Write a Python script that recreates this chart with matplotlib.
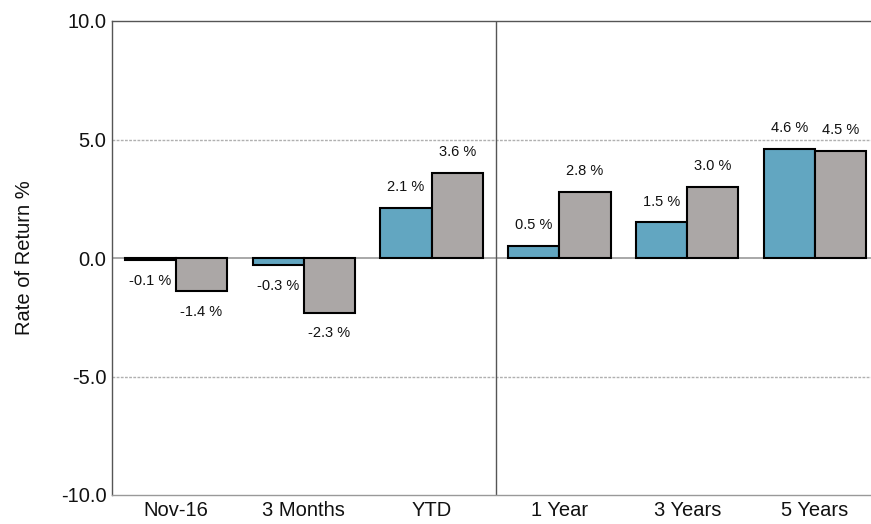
import matplotlib
matplotlib.use("Agg")
import matplotlib.pyplot as plt
import numpy as np

categories = ["Nov-16", "3 Months", "YTD", "1 Year", "3 Years", "5 Years"]
series_a = [-0.1, -0.3, 2.1, 0.5, 1.5, 4.6]
series_b = [-1.4, -2.3, 3.6, 2.8, 3.0, 4.5]
yticks = [-10.0, -5.0, 0.0, 5.0, 10.0]

plt.rcParams['font.family'] = ['Liberation Sans', 'DejaVu Sans']

fig = plt.figure(figsize=(8.71, 5.24), dpi=100)
ax = fig.add_axes([112/871, 1-495/524, 767/871, (495-21)/524])

x = np.arange(len(categories))
w = 0.4
ba = ax.bar(x - w/2, series_a, w, color="#62a6c1", edgecolor="black", linewidth=1.5, zorder=3)
bb = ax.bar(x + w/2, series_b, w, color="#aba7a6", edgecolor="black", linewidth=1.5, zorder=3)

for bars, vals in ((ba, series_a), (bb, series_b)):
    for rect, v in zip(bars, vals):
        cx = rect.get_x() + rect.get_width()/2
        if v >= 0:
            ax.annotate(f"{v:.1f} %", (cx, v), xytext=(0, 10), textcoords="offset points",
                        ha="center", va="bottom", fontsize=10.5, color="#111111")
        else:
            ax.annotate(f"{v:.1f} %", (cx, v), xytext=(0, -10), textcoords="offset points",
                        ha="center", va="top", fontsize=10.5, color="#111111")

for yv in (5, -5):
    ax.axhline(yv, color="#b0b0b0", linestyle=(0, (2, 1)), linewidth=1.0, zorder=1)
ax.axhline(0, color="#9a9a9a", linewidth=1.2, zorder=2)
ax.axvline(2.5, color="#555555", linewidth=1.0, zorder=2)

ax.set_xlim(-0.5, len(categories) - 0.5)
ax.set_ylim(-10, 10)
ax.set_yticks(yticks)
ax.set_yticklabels([f"{t:.1f}" for t in yticks])
ax.set_xticks(x)
ax.set_xticklabels(categories)
ax.tick_params(axis="both", length=0, labelsize=14.5, colors="#111111")
ax.tick_params(axis="y", pad=4)
ax.tick_params(axis="x", pad=4)
ax.set_ylabel("Rate of Return %", fontsize=14.5, color="#111111")
ax.yaxis.set_label_coords((34 - 112)/767, 0.5)

ax.spines["right"].set_visible(False)
ax.spines["left"].set_color("#555555")
ax.spines["top"].set_color("#555555")
ax.spines["bottom"].set_color("#999999")
for s in ("left", "top", "bottom"):
    ax.spines[s].set_linewidth(1.0)

fig.savefig("out.png", dpi=100)
